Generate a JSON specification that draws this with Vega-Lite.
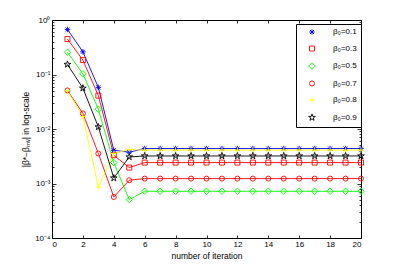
{
  "$schema": "https://vega.github.io/schema/vega-lite/v6.json",
  "width": 309,
  "height": 218,
  "autosize": {"type": "none"},
  "padding": {"left": 52, "top": 20, "right": 38, "bottom": 30},
  "background": "white",
  "config": {
    "view": {"stroke": "black", "strokeWidth": 1},
    "font": "Liberation Sans",
    "axis": {"grid": false, "domain": false, "tickColor": "black", "tickWidth": 0.8, "labelColor": "black", "titleColor": "black", "labelFontSize": 8, "titleFontSize": 8.5, "titleFontWeight": "normal", "labelFont": "Liberation Sans", "titleFont": "Liberation Sans"}
  },
  "datasets": {
    "pts": [
      {"it": 1, "beta": "β₀=0.1", "err": 0.67},
      {"it": 2, "beta": "β₀=0.1", "err": 0.261},
      {"it": 3, "beta": "β₀=0.1", "err": 0.058},
      {"it": 4, "beta": "β₀=0.1", "err": 0.00407},
      {"it": 5, "beta": "β₀=0.1", "err": 0.00375},
      {"it": 6, "beta": "β₀=0.1", "err": 0.00438},
      {"it": 7, "beta": "β₀=0.1", "err": 0.00438},
      {"it": 8, "beta": "β₀=0.1", "err": 0.00438},
      {"it": 9, "beta": "β₀=0.1", "err": 0.00438},
      {"it": 10, "beta": "β₀=0.1", "err": 0.00438},
      {"it": 11, "beta": "β₀=0.1", "err": 0.00438},
      {"it": 12, "beta": "β₀=0.1", "err": 0.00438},
      {"it": 13, "beta": "β₀=0.1", "err": 0.00438},
      {"it": 14, "beta": "β₀=0.1", "err": 0.00438},
      {"it": 15, "beta": "β₀=0.1", "err": 0.00438},
      {"it": 16, "beta": "β₀=0.1", "err": 0.00438},
      {"it": 17, "beta": "β₀=0.1", "err": 0.00438},
      {"it": 18, "beta": "β₀=0.1", "err": 0.00438},
      {"it": 19, "beta": "β₀=0.1", "err": 0.00438},
      {"it": 20, "beta": "β₀=0.1", "err": 0.00438},
      {"it": 1, "beta": "β₀=0.3", "err": 0.447},
      {"it": 2, "beta": "β₀=0.3", "err": 0.184},
      {"it": 3, "beta": "β₀=0.3", "err": 0.041},
      {"it": 4, "beta": "β₀=0.3", "err": 0.0033},
      {"it": 5, "beta": "β₀=0.3", "err": 0.00196},
      {"it": 6, "beta": "β₀=0.3", "err": 0.00242},
      {"it": 7, "beta": "β₀=0.3", "err": 0.00242},
      {"it": 8, "beta": "β₀=0.3", "err": 0.00242},
      {"it": 9, "beta": "β₀=0.3", "err": 0.00242},
      {"it": 10, "beta": "β₀=0.3", "err": 0.00242},
      {"it": 11, "beta": "β₀=0.3", "err": 0.00242},
      {"it": 12, "beta": "β₀=0.3", "err": 0.00242},
      {"it": 13, "beta": "β₀=0.3", "err": 0.00242},
      {"it": 14, "beta": "β₀=0.3", "err": 0.00242},
      {"it": 15, "beta": "β₀=0.3", "err": 0.00242},
      {"it": 16, "beta": "β₀=0.3", "err": 0.00242},
      {"it": 17, "beta": "β₀=0.3", "err": 0.00242},
      {"it": 18, "beta": "β₀=0.3", "err": 0.00242},
      {"it": 19, "beta": "β₀=0.3", "err": 0.00242},
      {"it": 20, "beta": "β₀=0.3", "err": 0.00242},
      {"it": 1, "beta": "β₀=0.5", "err": 0.255},
      {"it": 2, "beta": "β₀=0.5", "err": 0.103},
      {"it": 3, "beta": "β₀=0.5", "err": 0.0231},
      {"it": 4, "beta": "β₀=0.5", "err": 0.00242},
      {"it": 5, "beta": "β₀=0.5", "err": 0.000506},
      {"it": 6, "beta": "β₀=0.5", "err": 0.00072},
      {"it": 7, "beta": "β₀=0.5", "err": 0.00072},
      {"it": 8, "beta": "β₀=0.5", "err": 0.00072},
      {"it": 9, "beta": "β₀=0.5", "err": 0.00072},
      {"it": 10, "beta": "β₀=0.5", "err": 0.00072},
      {"it": 11, "beta": "β₀=0.5", "err": 0.00072},
      {"it": 12, "beta": "β₀=0.5", "err": 0.00072},
      {"it": 13, "beta": "β₀=0.5", "err": 0.00072},
      {"it": 14, "beta": "β₀=0.5", "err": 0.00072},
      {"it": 15, "beta": "β₀=0.5", "err": 0.00072},
      {"it": 16, "beta": "β₀=0.5", "err": 0.00072},
      {"it": 17, "beta": "β₀=0.5", "err": 0.00072},
      {"it": 18, "beta": "β₀=0.5", "err": 0.00072},
      {"it": 19, "beta": "β₀=0.5", "err": 0.00072},
      {"it": 20, "beta": "β₀=0.5", "err": 0.00072},
      {"it": 1, "beta": "β₀=0.7", "err": 0.051},
      {"it": 2, "beta": "β₀=0.7", "err": 0.0193},
      {"it": 3, "beta": "β₀=0.7", "err": 0.00355},
      {"it": 4, "beta": "β₀=0.7", "err": 0.000565},
      {"it": 5, "beta": "β₀=0.7", "err": 0.00115},
      {"it": 6, "beta": "β₀=0.7", "err": 0.00123},
      {"it": 7, "beta": "β₀=0.7", "err": 0.00123},
      {"it": 8, "beta": "β₀=0.7", "err": 0.00123},
      {"it": 9, "beta": "β₀=0.7", "err": 0.00123},
      {"it": 10, "beta": "β₀=0.7", "err": 0.00123},
      {"it": 11, "beta": "β₀=0.7", "err": 0.00123},
      {"it": 12, "beta": "β₀=0.7", "err": 0.00123},
      {"it": 13, "beta": "β₀=0.7", "err": 0.00123},
      {"it": 14, "beta": "β₀=0.7", "err": 0.00123},
      {"it": 15, "beta": "β₀=0.7", "err": 0.00123},
      {"it": 16, "beta": "β₀=0.7", "err": 0.00123},
      {"it": 17, "beta": "β₀=0.7", "err": 0.00123},
      {"it": 18, "beta": "β₀=0.7", "err": 0.00123},
      {"it": 19, "beta": "β₀=0.7", "err": 0.00123},
      {"it": 20, "beta": "β₀=0.7", "err": 0.00123},
      {"it": 1, "beta": "β₀=0.8", "err": 0.05},
      {"it": 2, "beta": "β₀=0.8", "err": 0.017},
      {"it": 3, "beta": "β₀=0.8", "err": 0.00086},
      {"it": 4, "beta": "β₀=0.8", "err": 0.00355},
      {"it": 5, "beta": "β₀=0.8", "err": 0.0042},
      {"it": 6, "beta": "β₀=0.8", "err": 0.0041},
      {"it": 7, "beta": "β₀=0.8", "err": 0.0041},
      {"it": 8, "beta": "β₀=0.8", "err": 0.0041},
      {"it": 9, "beta": "β₀=0.8", "err": 0.0041},
      {"it": 10, "beta": "β₀=0.8", "err": 0.0041},
      {"it": 11, "beta": "β₀=0.8", "err": 0.0041},
      {"it": 12, "beta": "β₀=0.8", "err": 0.0041},
      {"it": 13, "beta": "β₀=0.8", "err": 0.0041},
      {"it": 14, "beta": "β₀=0.8", "err": 0.0041},
      {"it": 15, "beta": "β₀=0.8", "err": 0.0041},
      {"it": 16, "beta": "β₀=0.8", "err": 0.0041},
      {"it": 17, "beta": "β₀=0.8", "err": 0.0041},
      {"it": 18, "beta": "β₀=0.8", "err": 0.0041},
      {"it": 19, "beta": "β₀=0.8", "err": 0.0041},
      {"it": 20, "beta": "β₀=0.8", "err": 0.0041},
      {"it": 1, "beta": "β₀=0.9", "err": 0.153},
      {"it": 2, "beta": "β₀=0.9", "err": 0.056},
      {"it": 3, "beta": "β₀=0.9", "err": 0.0109},
      {"it": 4, "beta": "β₀=0.9", "err": 0.00126},
      {"it": 5, "beta": "β₀=0.9", "err": 0.00307},
      {"it": 6, "beta": "β₀=0.9", "err": 0.0032},
      {"it": 7, "beta": "β₀=0.9", "err": 0.0032},
      {"it": 8, "beta": "β₀=0.9", "err": 0.0032},
      {"it": 9, "beta": "β₀=0.9", "err": 0.0032},
      {"it": 10, "beta": "β₀=0.9", "err": 0.0032},
      {"it": 11, "beta": "β₀=0.9", "err": 0.0032},
      {"it": 12, "beta": "β₀=0.9", "err": 0.0032},
      {"it": 13, "beta": "β₀=0.9", "err": 0.0032},
      {"it": 14, "beta": "β₀=0.9", "err": 0.0032},
      {"it": 15, "beta": "β₀=0.9", "err": 0.0032},
      {"it": 16, "beta": "β₀=0.9", "err": 0.0032},
      {"it": 17, "beta": "β₀=0.9", "err": 0.0032},
      {"it": 18, "beta": "β₀=0.9", "err": 0.0032},
      {"it": 19, "beta": "β₀=0.9", "err": 0.0032},
      {"it": 20, "beta": "β₀=0.9", "err": 0.0032}
    ]
  },
  "data": {"name": "pts"},
  "resolve": {"axis": {"x": "independent", "y": "independent"}},
  "layer": [
    {
      "mark": {"type": "line", "strokeWidth": 0.9, "clip": true},
      "encoding": {
        "x": {"field": "it", "type": "quantitative", "scale": {"domain": [0, 20], "nice": false}, "axis": null},
        "y": {"field": "err", "type": "quantitative", "scale": {"type": "log", "domain": [0.0001, 1], "nice": false}, "axis": null},
        "color": {"field": "beta", "type": "nominal",
          "scale": {"domain": ["β₀=0.1", "β₀=0.3", "β₀=0.5", "β₀=0.7", "β₀=0.8", "β₀=0.9"], "range": ["#0000ff", "#ff0000", "#00ff00", "#ff0000", "#ffff00", "#000000"]}},
        "detail": {"field": "beta"}
      }
    },
    {
      "mark": {"type": "point", "filled": false, "size": 25, "strokeWidth": 0.9, "opacity": 1},
      "encoding": {
        "x": {"field": "it", "type": "quantitative",
          "axis": {"orient": "bottom", "values": [0, 2, 4, 6, 8, 10, 12, 14, 16, 18, 20], "tickSize": -3, "labelPadding": 5, "title": "number of iteration", "titlePadding": 3}},
        "y": {"field": "err", "type": "quantitative",
          "axis": {"orient": "left", "values": [0.0001, 0.001, 0.01, 0.1, 1], "tickSize": -4, "labelPadding": 6,
            "labelExpr": "'10' + ['⁻⁴','⁻³','⁻²','⁻¹','⁰'][round(log(datum.value)/LN10) + 4]",
            "title": "|β*−βₘᵥ| in log-scale", "titlePadding": 4}},
        "color": {"field": "beta", "type": "nominal",
          "legend": {"orient": "none", "legendX": 244, "legendY": 4, "title": null, "strokeColor": "black", "fillColor": "white", "padding": 4,
            "symbolSize": 25, "symbolStrokeWidth": 0.9, "symbolOffset": 8, "labelFontSize": 8, "labelFont": "Liberation Sans", "labelOffset": 17, "rowPadding": 6.5, "cornerRadius": 0}},
        "shape": {"field": "beta", "type": "nominal",
          "scale": {"domain": ["β₀=0.1", "β₀=0.3", "β₀=0.5", "β₀=0.7", "β₀=0.8", "β₀=0.9"],
            "range": ["M-1.1,0H1.1M0,-1.1V1.1M-0.8,-0.8L0.8,0.8M-0.8,0.8L0.8,-0.8", "M-1,-1H1V1H-1Z", "M0,-1.3L1.3,0L0,1.3L-1.3,0Z", "circle", "M-1.1,0H1.1M0,-1.1V1.1", "M0,-1.4L0.315,-0.433L1.331,-0.433L0.508,0.165L0.823,1.133L0,0.535L-0.823,1.133L-0.508,0.165L-1.331,-0.433L-0.315,-0.433Z"]}}
      }
    },
    {
      "mark": {"type": "point", "opacity": 0},
      "encoding": {
        "x": {"field": "it", "type": "quantitative", "axis": {"orient": "top", "values": [0, 2, 4, 6, 8, 10, 12, 14, 16, 18, 20], "tickSize": -3, "labels": false, "title": null}},
        "y": {"field": "err", "type": "quantitative", "axis": {"orient": "right", "values": [0.0001, 0.001, 0.01, 0.1, 1], "tickSize": -4, "labels": false, "title": null}}
      }
    },
    {
      "mark": {"type": "point", "opacity": 0},
      "encoding": {
        "x": {"field": "it", "type": "quantitative", "axis": null},
        "y": {"field": "err", "type": "quantitative", "axis": {"orient": "left", "tickSize": -2, "labels": false, "title": null,
          "values": [0.0002, 0.0003, 0.0004, 0.0005, 0.0006, 0.0007, 0.0008, 0.0009, 0.002, 0.003, 0.004, 0.005, 0.006, 0.007, 0.008, 0.009, 0.02, 0.03, 0.04, 0.05, 0.06, 0.07, 0.08, 0.09, 0.2, 0.3, 0.4, 0.5, 0.6, 0.7, 0.8, 0.9]}}
      }
    },
    {
      "mark": {"type": "point", "opacity": 0},
      "encoding": {
        "x": {"field": "it", "type": "quantitative", "axis": null},
        "y": {"field": "err", "type": "quantitative", "axis": {"orient": "right", "tickSize": -2, "labels": false, "title": null,
          "values": [0.0002, 0.0003, 0.0004, 0.0005, 0.0006, 0.0007, 0.0008, 0.0009, 0.002, 0.003, 0.004, 0.005, 0.006, 0.007, 0.008, 0.009, 0.02, 0.03, 0.04, 0.05, 0.06, 0.07, 0.08, 0.09, 0.2, 0.3, 0.4, 0.5, 0.6, 0.7, 0.8, 0.9]}}
      }
    }
  ]
}
